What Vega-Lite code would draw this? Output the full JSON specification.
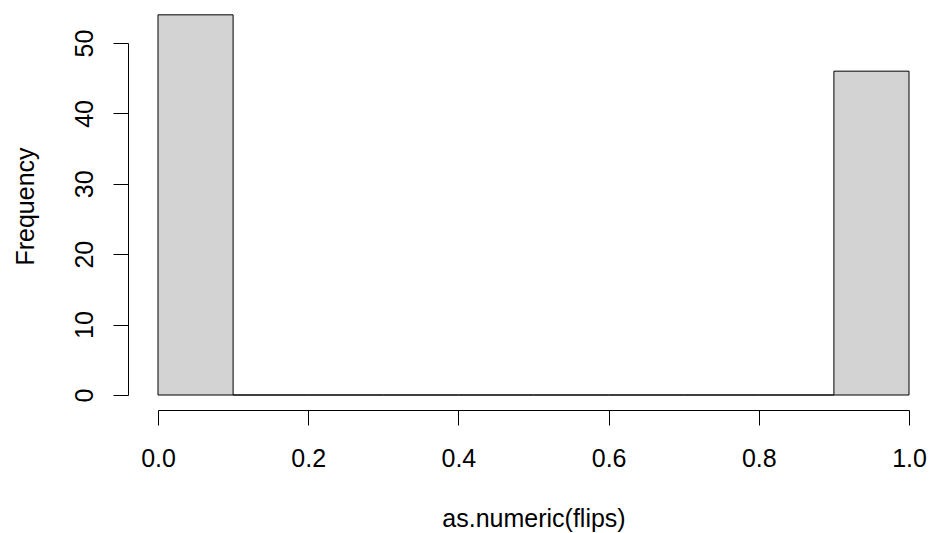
{
  "$schema": "https://vega.github.io/schema/vega-lite/v6.json",
  "width": 751,
  "height": 352,
  "autosize": "none",
  "padding": {"left": 158, "top": 43, "right": 20, "bottom": 138},
  "background": "white",
  "config": {"view": {"stroke": null}},
  "data": {
    "values": [
      {"bin_start": 0.0, "bin_end": 0.1, "count": 54},
      {"bin_start": 0.1, "bin_end": 0.2, "count": 0},
      {"bin_start": 0.2, "bin_end": 0.3, "count": 0},
      {"bin_start": 0.3, "bin_end": 0.4, "count": 0},
      {"bin_start": 0.4, "bin_end": 0.5, "count": 0},
      {"bin_start": 0.5, "bin_end": 0.6, "count": 0},
      {"bin_start": 0.6, "bin_end": 0.7, "count": 0},
      {"bin_start": 0.7, "bin_end": 0.8, "count": 0},
      {"bin_start": 0.8, "bin_end": 0.9, "count": 0},
      {"bin_start": 0.9, "bin_end": 1.0, "count": 46}
    ]
  },
  "mark": {"type": "rect", "fill": "#D3D3D3", "stroke": "black", "strokeWidth": 1, "clip": false},
  "encoding": {
    "x": {
      "field": "bin_start",
      "type": "quantitative",
      "scale": {"domain": [0, 1], "nice": false, "zero": false},
      "axis": {
        "title": "as.numeric(flips)",
        "offset": 15,
        "values": [0, 0.2, 0.4, 0.6, 0.8, 1.0],
        "format": ".1f",
        "grid": false,
        "domainColor": "black",
        "tickColor": "black",
        "tickSize": 15,
        "labelFont": "Liberation Sans",
        "labelFontSize": 25,
        "labelColor": "black",
        "labelBaseline": "alphabetic",
        "labelPadding": 41,
        "labelFlush": false,
        "labelOverlap": false,
        "titleFont": "Liberation Sans",
        "titleFontSize": 25,
        "titleFontWeight": "normal",
        "titleColor": "black",
        "titleBaseline": "alphabetic",
        "titleAlign": "center",
        "titleAnchor": null,
        "titleX": 375.5,
        "titleY": 116
      }
    },
    "x2": {"field": "bin_end"},
    "y": {
      "field": "count",
      "type": "quantitative",
      "scale": {"domain": [0, 50], "nice": false, "zero": true},
      "axis": {
        "title": "Frequency",
        "offset": 30,
        "values": [0, 10, 20, 30, 40, 50],
        "grid": false,
        "domainColor": "black",
        "tickColor": "black",
        "tickSize": 15,
        "labelFont": "Liberation Sans",
        "labelFontSize": 25,
        "labelColor": "black",
        "labelAngle": -90,
        "labelAlign": "center",
        "labelBaseline": "alphabetic",
        "labelPadding": 21,
        "labelFlush": false,
        "labelOverlap": false,
        "titleFont": "Liberation Sans",
        "titleFontSize": 25,
        "titleFontWeight": "normal",
        "titleColor": "black",
        "titleAngle": -90,
        "titleBaseline": "alphabetic",
        "titleAlign": "center",
        "titleAnchor": null,
        "titleX": -95,
        "titleY": 163
      }
    },
    "y2": {"datum": 0}
  }
}
